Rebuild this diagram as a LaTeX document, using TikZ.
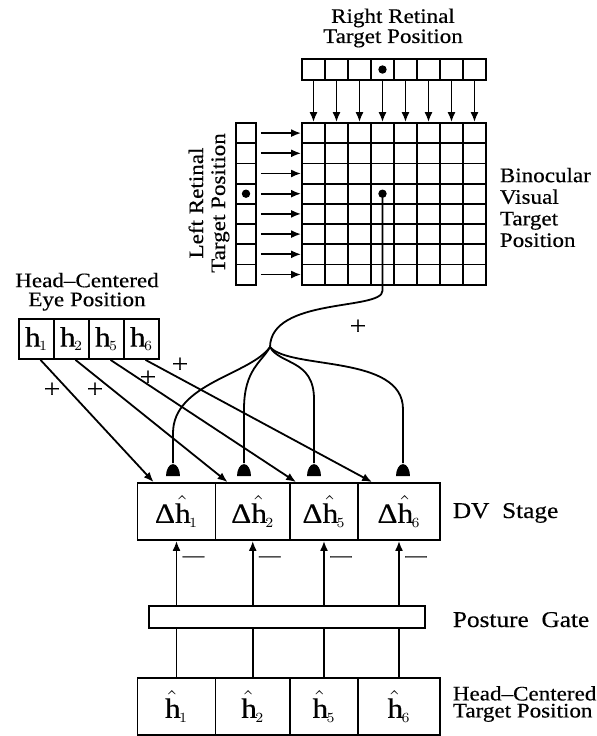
\documentclass[tikz,border=0pt]{standalone}
\usepackage{fontspec}
\setmainfont{Liberation Serif}[FakeStretch=1.12, FakeBold=0.4]
\usetikzlibrary{arrows.meta}

\tikzset{
    cell/.style={draw, inner sep=0pt, minimum width=11.5pt, minimum height=10.1pt},
    hbox/.style={draw, inner sep=0pt, minimum width=17.5pt, minimum height=20pt, font=\fontsize{14}{14}\selectfont},
    box/.style={draw, inner sep=0pt, minimum height=28.5pt, font=\fontsize{14}{14}\selectfont},
    dot/.style={circle, fill, inner sep=0pt, minimum size=4.2pt},
    bell/.style={fill=white, inner sep=0pt, minimum width=7pt, minimum height=6pt, anchor=south,
        path picture={\fill[black] (path picture bounding box.south west) arc[start angle=180, end angle=0, x radius=3.5pt, y radius=6pt] -- cycle;}},
    lbl/.style={inner sep=0pt, align=center, font=\fontsize{10.3}{9.5}\selectfont},
    stage/.style={inner sep=0pt, anchor=base west, font=\fontsize{11.3}{12}\selectfont},
    plussign/.style={inner sep=0pt, font=\fontsize{13}{13}\selectfont},
    minussign/.style={inner sep=0pt, font=\fontsize{9.5}{9.5}\selectfont},
    arr/.style={-{Latex[length=5pt, width=4pt]}}
}

\begin{document}
\begin{tikzpicture}[x=0.5pt, y=-0.5pt, line width=0.9pt]
    % Fix the picture area
    \useasboundingbox (0,0) rectangle (597,736);

    % Right retinal target position
    \foreach \c in {1,...,8}
        \node[cell, minimum height=10.5pt] (r\c) at ({290.5+23*\c}, 69.5) {};
    \node[dot] (rdot) at (r4) {};
    \node[lbl, font=\fontsize{10.3}{9}\selectfont] (rlabel) at (393, 28) {Right Retinal\\Target Position};

    % Binocular map
    \foreach \r in {1,...,8}
        \foreach \c in {1,...,8}
            \node[cell] (g\r\c) at ({290.5+23*\c}, {112.9+20.2*\r}) {};
    \node[dot] (gdot) at (g44) {};
    \node[lbl, align=left, anchor=west, font=\fontsize{10.3}{10.8}\selectfont] (blabel) at (499, 207.5) {Binocular\\Visual\\Target\\Position};

    % Left retinal target position
    \foreach \r in {1,...,8}
        \node[cell, minimum width=10pt] (l\r) at (246, {112.9+20.2*\r}) {};
    \node[dot] (ldot) at (l4) {};
    \node[lbl, rotate=90, font=\fontsize{10.3}{11}\selectfont] (llabel) at (209, 203) {Left Retinal\\Target Position};

    % Retinal maps into the binocular map
    \foreach \c in {1,...,8}
        \draw[arr] (r\c) -- (g1\c.north);
    \foreach \r in {1,...,8}
        \draw[arr, shorten <=2pt] (l\r) -- (g\r1.west);

    % Head-centered eye position
    \foreach \i/\n in {1/1, 2/2, 3/5, 4/6}
        \node[hbox] (h\i) at ({1.5+35*\i}, 339) {$\mathrm{h}_{\scriptscriptstyle\n}$};
    \node[lbl] (elabel) at (87, 291.75) {Head–Centered\\Eye Position};

    % DV stage and head-centered target position
    \foreach \i/\n/\x/\w in {1/1/176.5/39pt, 2/2/252.75/37.25pt, 3/5/324/34pt, 4/6/399/41pt} {
        \node[box, minimum width=\w] (d\i) at (\x, 511.5) {Δ$\hat{\mathrm{h}}_{\scriptscriptstyle\n}$};
        \node[box, minimum width=\w] (t\i) at (\x, 706.5) {$\hat{\mathrm{h}}_{\scriptscriptstyle\n}$};
    }
    \node[stage] (dvlabel) at (452, 518) {DV~~Stage};
    \node[lbl, align=left, anchor=west, font=\fontsize{10.3}{8.5}\selectfont] (tlabel) at (452, 704) {Head–Centered\\Target Position};

    % Posture gate
    \node[draw, inner sep=0pt, minimum width=138pt, minimum height=11pt] (gate) at (287, 617) {};
    \node[stage] (glabel) at (452, 627) {Posture~~Gate};
    \foreach \i in {1,...,4} {
        \draw (t\i.north) -- (t\i.north |- gate.south);
        \draw[arr] (t\i.north |- gate.north) -- (d\i.south);
        \node[minussign] (m\i) at ([xshift=8.5pt, yshift=-9pt]d\i.south) {—};
    }

    % Eye position into the DV stage
    \foreach \i/\dx in {1/8.5pt, 2/6.5pt, 3/3.5pt, 4/7.5pt}
        \draw[arr] ([xshift=2pt]h\i.south) -- ([xshift=\dx]d\i.north west);
    \foreach \i/\x/\y in {1/52/390, 2/95/390, 3/148/378, 4/180/365}
        \node[plussign] (p\i) at (\x, \y) {+};

    % Binocular target into the DV stage
    \foreach \i/\x in {1/173, 2/244, 3/314, 4/403}
        \node[bell] (s\i) at (\x, 477) {};
    \coordinate (split) at (270, 347);
    \draw (gdot.center) -- ++(0,97) .. controls +(0,20) and +(1,-50) .. (split);
    \draw (split) .. controls +(-20,28) and +(0,-50) .. ([yshift=15pt]s1.north) -- (s1.north);
    \draw (split) .. controls +(-8,15) and +(0,-40) .. ([yshift=27pt]s2.north) -- (s2.north);
    \draw (split) .. controls +(10,18) and +(0,-40) .. ([yshift=32pt]s3.north) -- (s3.north);
    \draw (split) .. controls +(20,23) and +(0,-55) .. ([yshift=27pt]s4.north) -- (s4.north);
    \node[plussign] (p5) at (358, 327) {+};
\end{tikzpicture}
\end{document}
